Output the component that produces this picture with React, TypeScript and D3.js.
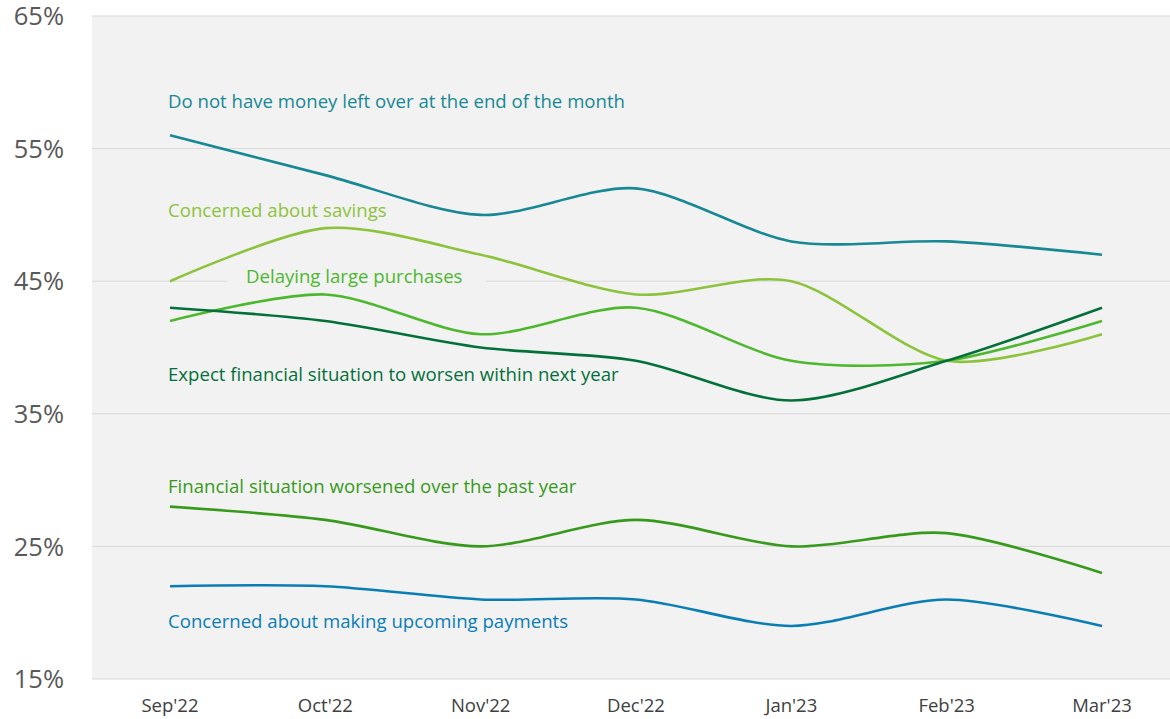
import React from "react";
import * as d3 from "d3";

const months = ["Sep'22", "Oct'22", "Nov'22", "Dec'22", "Jan'23", "Feb'23", "Mar'23"];
const yTicks = [15, 25, 35, 45, 55, 65];

const noMoneyLeft = [56, 53, 50, 52, 48, 48, 47];
const concernedSavings = [45, 49, 47, 44, 45, 39, 41];
const delayingPurchases = [42, 44, 41, 43, 39, 39, 42];
const expectWorsen = [43, 42, 40, 39, 36, 39, 43];
const worsenedPastYear = [28, 27, 25, 27, 25, 26, 23];
const upcomingPayments = [22, 22, 21, 21, 19, 21, 19];

const seriesNames = [
  "Do not have money left over at the end of the month",
  "Concerned about savings",
  "Delaying large purchases",
  "Expect financial situation to worsen within next year",
  "Financial situation worsened over the past year",
  "Concerned about making upcoming payments",
];
const seriesValues = [noMoneyLeft, concernedSavings, delayingPurchases, expectWorsen, worsenedPastYear, upcomingPayments];
const seriesColors = ["#178894", "#8dc33c", "#4db82e", "#03703a", "#389a1c", "#0a7db5"];
const labelPos = [
  { x: 168, v: 58.59 },
  { x: 168, v: 50.3 },
  { x: 246, v: 45.39 },
  { x: 168, v: 37.93 },
  { x: 168, v: 29.55 },
  { x: 168, v: 19.3 },
];

export default function App() {
  const W = 1170, H = 719;
  const left = 92, right = 1170, top = 16, bottom = 679;
  const x = d3.scalePoint<string>().domain(months).range([170, 1102]);
  const y = d3.scaleLinear().domain([15, 65]).range([bottom, top]);
  const line = d3
    .line<number>()
    .x((_, i) => x(months[i])!)
    .y((d) => y(d))
    .curve(d3.curveCardinal.tension(0.15));
  const font = "'Open Sans', sans-serif";

  return (
    <svg width={W} height={H} style={{ position: "absolute", left: 0, top: 0 }} fontFamily={font}>
      <rect x={left} y={top} width={right - left} height={bottom - top} fill="#f2f2f2" />
      {yTicks.map((t) => (
        <line key={t} x1={left} x2={right} y1={y(t)} y2={y(t)} stroke="#d9d9d9" strokeWidth={1} />
      ))}
      {yTicks.map((t) => (
        <text key={"l" + t} x={64} y={y(t)} dy="0.36em" textAnchor="end" fontSize={25.5} fill="#595959">
          {t}%
        </text>
      ))}
      {months.map((m) => (
        <text key={m} x={x(m)} y={706} dy="0.35em" textAnchor="middle" fontSize={18.5} fill="#404040">
          {m}
        </text>
      ))}
      {seriesValues.map((vals, i) => (
        <path key={i} d={line(vals) || ""} fill="none" stroke={seriesColors[i]} strokeWidth={2.6} />
      ))}
      {seriesNames.map((n, i) => {
        const lx = labelPos[i].x;
        const ly = y(labelPos[i].v);
        return (
          <g key={"n" + i}>
            {i === 2 && <rect x={227} y={ly - 13} width={259} height={26} fill="#f2f2f2" />}
            <text x={lx} y={ly} dy="0.35em" fontSize={18.6} fill={seriesColors[i]}>
              {n}
            </text>
          </g>
        );
      })}
    </svg>
  );
}
